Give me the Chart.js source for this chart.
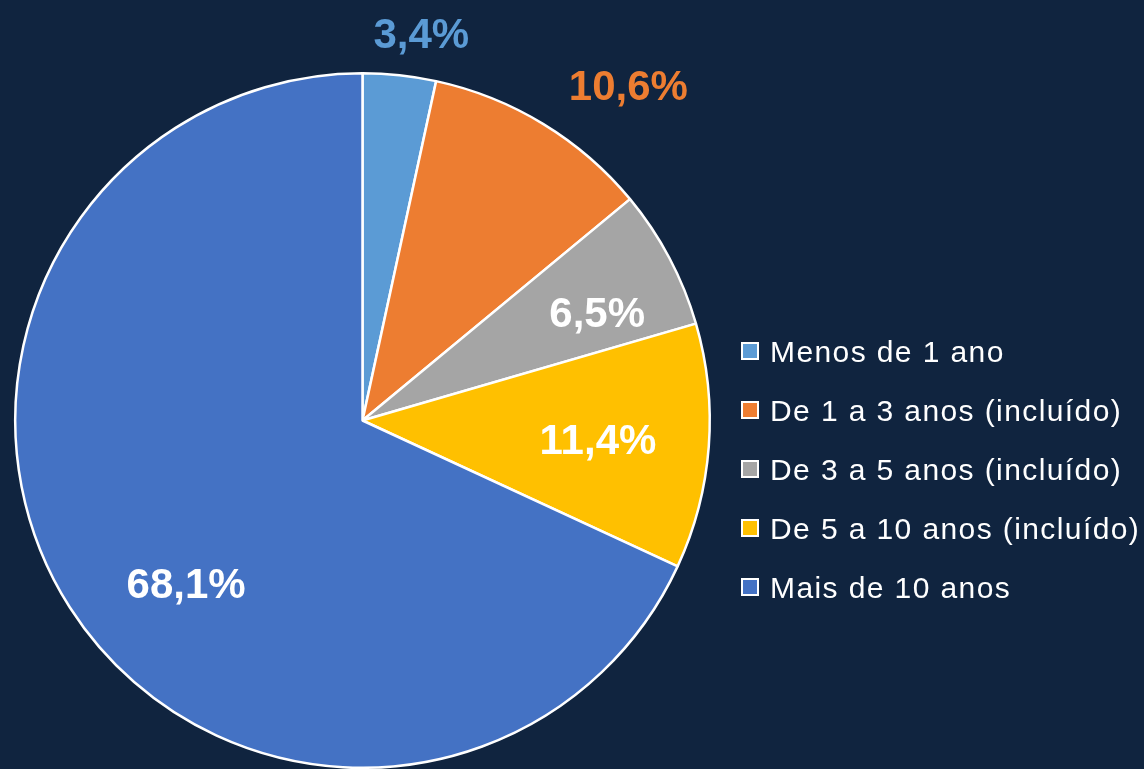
<!DOCTYPE html>
<html>
<head>
<meta charset="utf-8">
<script src="https://cdn.jsdelivr.net/npm/chart.js@4/dist/chart.umd.min.js"></script>
<style>
  html, body { margin:0; padding:0; background:#10243f; }
  #wrap { width:1144px; height:769px; }
</style>
</head>
<body>
<div id="wrap"><canvas id="grafico" width="1144" height="769"></canvas></div>
<script>
const categorias = ['Menos de 1 ano', 'De 1 a 3 anos (incluído)', 'De 3 a 5 anos (incluído)', 'De 5 a 10 anos (incluído)', 'Mais de 10 anos']
const valores = [3.4, 10.6, 6.5, 11.4, 68.1]
const cores = ['#5b9bd5', '#ed7d31', '#a5a5a5', '#ffc000', '#4472c4']

// onde cada rótulo fica: fração do raio e desvio de ângulo (graus)
const posRotulos = [
  {r:1.13, da:2.5, fora:true},
  {r:1.235, da:7, fora:true},
  {r:0.745, da:3, fora:false},
  {r:0.68, da:0, fora:false},
  {r:0.69, da:-10, fora:false}
]

const rotulos = {
  id:'rotulos',
  afterDatasetsDraw(chart){
    const {ctx} = chart
    const meta = chart.getDatasetMeta(0)
    ctx.save()
    ctx.font = 'bold 42px "Liberation Sans", Arial, sans-serif'
    ctx.textAlign = 'center'
    ctx.textBaseline = 'middle'
    meta.data.forEach((arc, i) => {
      const p = posRotulos[i]
      const ang = (arc.startAngle + arc.endAngle)/2 + p.da*Math.PI/180
      const r = arc.outerRadius*p.r
      const x = arc.x + Math.cos(ang)*r
      const y = arc.y + Math.sin(ang)*r + 4
      ctx.fillStyle = p.fora ? cores[i] : '#ffffff'
      ctx.fillText(valores[i].toFixed(1).replace('.', ',') + '%', x, y)
    })
    ctx.restore()
  }
}

const legenda = {
  id:'legenda',
  afterDraw(chart){
    const {ctx} = chart
    ctx.save()
    ctx.font = '30px "Liberation Sans", Arial, sans-serif'
    ctx.letterSpacing = '1.4px'
    ctx.textBaseline = 'middle'
    ctx.textAlign = 'left'
    chart.data.labels.forEach((txt, i) => {
      const y = 351 + i*59
      ctx.fillStyle = '#ffffff'
      ctx.fillRect(741, y-9, 18, 18)
      ctx.fillStyle = cores[i]
      ctx.fillRect(743, y-7, 14, 14)
      ctx.fillStyle = '#ffffff'
      ctx.fillText(txt, 770, y+3)
    })
    ctx.restore()
  }
}

new Chart(document.getElementById('grafico'), {
  type:'pie',
  data:{
    labels:categorias,
    datasets:[{
      data:valores,
      backgroundColor:cores,
      borderColor:'#ffffff',
      borderWidth:2.5
    }]
  },
  options:{
    responsive:false,
    animation:false,
    layout:{padding:{left:13, right:432, top:72, bottom:-1}},
    plugins:{
      legend:{display:false},
      tooltip:{enabled:false}
    }
  },
  plugins:[rotulos, legenda]
})
</script>
</body>
</html>
